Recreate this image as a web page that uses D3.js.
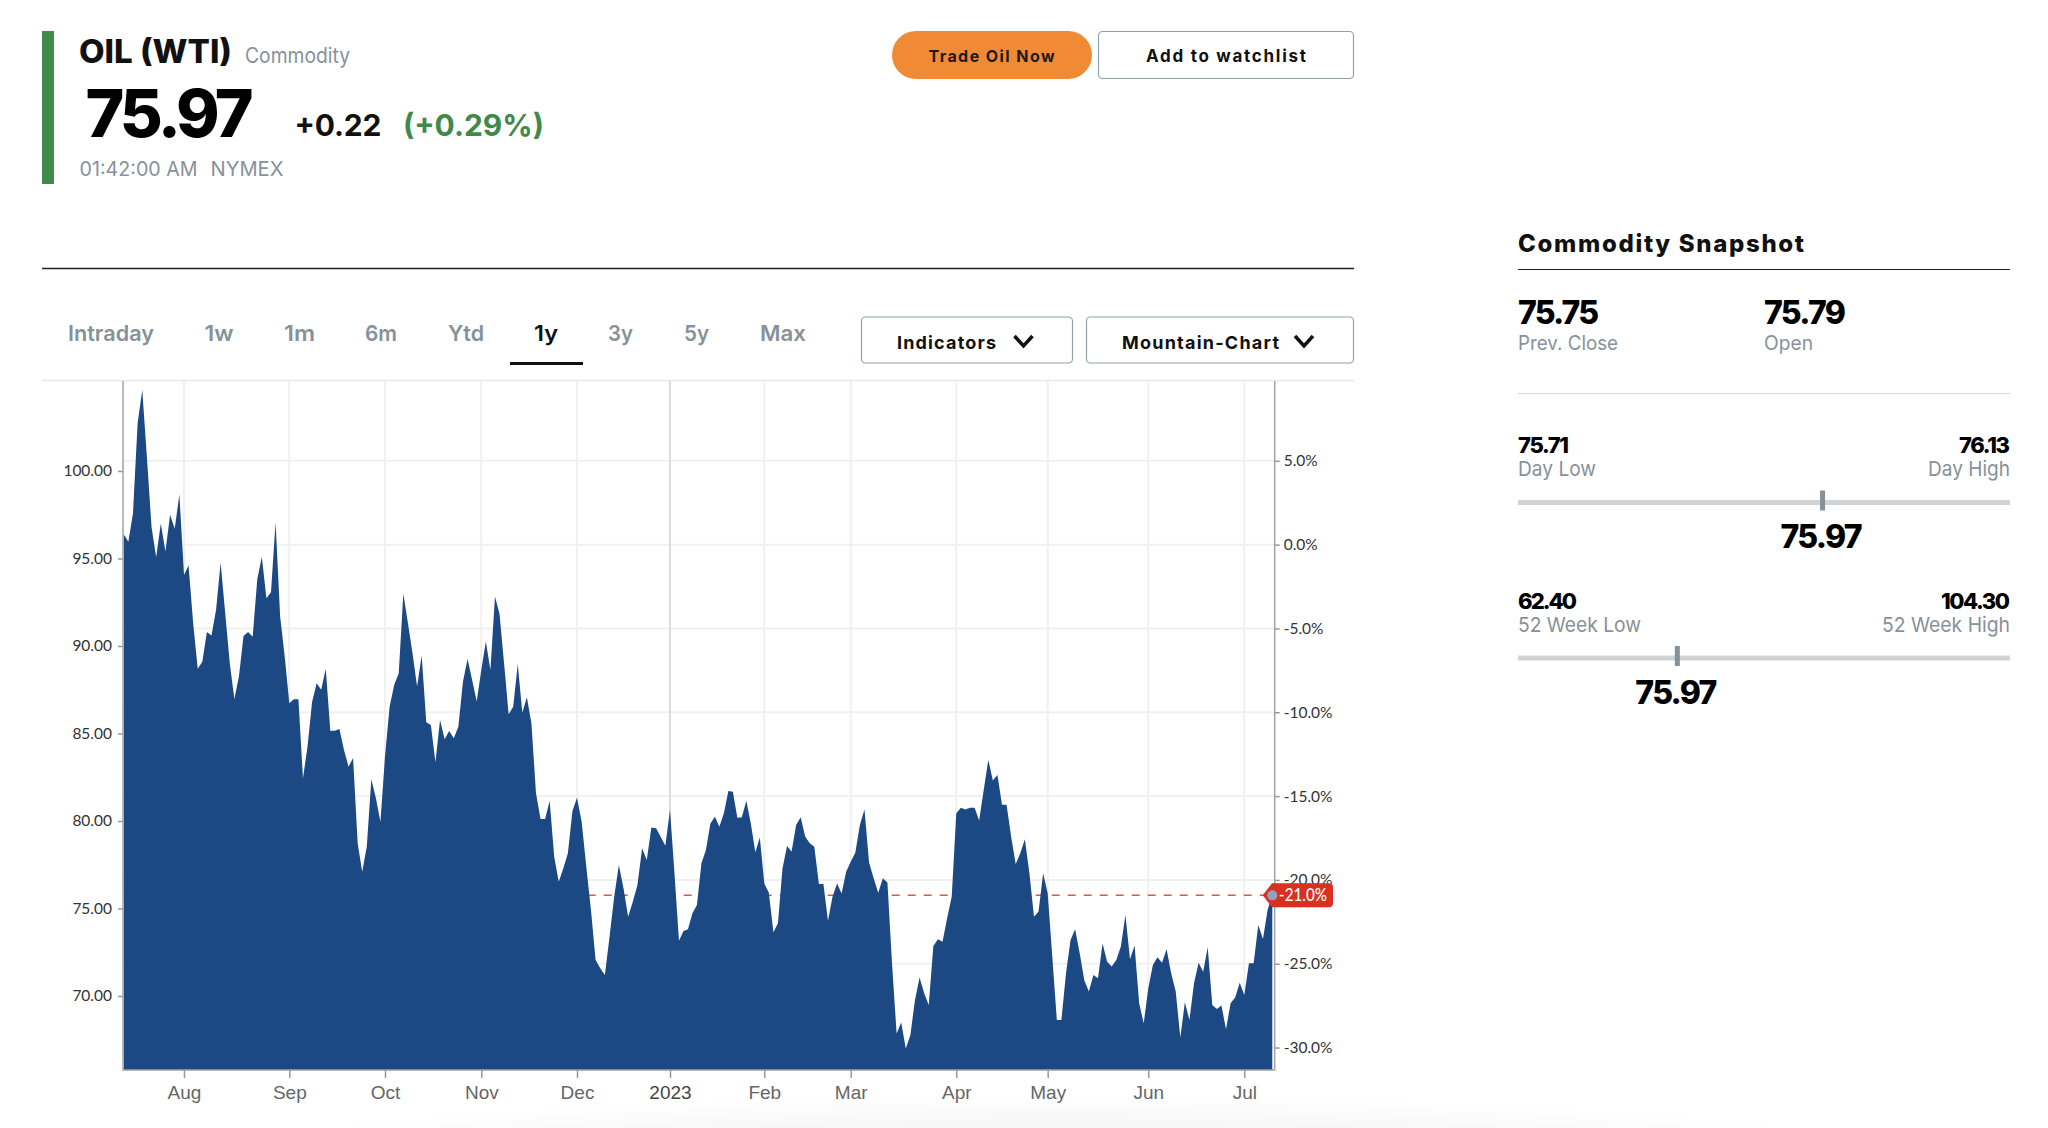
<!DOCTYPE html>
<html>
<head>
<meta charset="utf-8">
<script src="https://cdn.jsdelivr.net/npm/d3@7"></script>
<style>
  html, body { margin: 0; padding: 0; background: #fff; }
  svg { display: block; font-family: Inter, "Noto Sans", sans-serif; }
  .axis path.domain { display: none; }
  .axis line { stroke: #999; stroke-width: 1.5; }
</style>
</head>
<body>
<svg id="page" width="2048" height="1128"></svg>
<script>

// ===========================//
// DATA
// ===========================//

// daily closes, one year of trading days
var closes = [
  96.38,95.96,97.58,102.72,104.63,100.8,96.8,95.07,97.0,95.4,97.5,96.7,98.65,
  94.06,94.6,91.3,88.7,89.1,90.8,90.6,92.06,94.76,91.87,89.0,86.97,88.25,90.57,90.8,90.53,93.8,95.1,92.72,93.07,97.05,91.68,89.4,
  86.72,86.95,86.95,82.44,84.25,86.8,87.87,87.5,88.7,85.16,85.16,85.26,84.06,83.1,83.6,78.72,77.1,78.53,82.38,81.3,79.96,
  83.68,86.53,87.77,88.44,93.0,91.3,89.58,87.68,89.45,85.64,85.49,83.35,85.77,84.67,85.14,84.72,85.39,87.96,89.26,88.06,86.82,88.63,
  90.25,88.63,92.82,91.83,89.0,86.1,86.53,88.97,86.19,87.07,85.58,81.58,80.11,80.11,81.16,77.96,76.53,77.3,78.15,80.57,
  81.33,79.96,77.39,74.91,72.05,71.58,71.2,73.39,75.67,77.48,76.15,74.53,75.39,76.34,78.44,77.77,79.62,79.58,79.1,78.59,
  80.63,77.0,73.16,73.71,73.81,74.72,75.2,77.58,78.34,79.86,80.24,79.67,80.44,81.71,81.67,80.19,80.21,81.16,79.86,78.21,79.06,
  76.43,75.9,73.64,74.15,77.29,78.57,78.25,79.77,80.21,79.1,78.72,78.53,76.4,76.4,74.3,75.67,76.43,75.86,77.1,
  77.67,78.19,79.77,80.66,77.62,76.72,75.9,76.72,76.49,71.86,67.86,68.49,67.0,67.77,69.77,71.05,70.15,69.48,72.85,73.24,73.1,74.44,75.67,
  80.44,80.76,80.66,80.76,80.76,80.02,81.77,83.49,82.31,82.63,80.92,80.92,79.1,77.54,78.15,78.95,77.01,74.53,74.82,77.01,
  75.87,72.25,68.63,68.63,71.3,73.2,73.81,72.44,70.9,70.25,71.2,71.01,73.0,71.96,71.68,72.06,72.82,74.63,72.1,72.88,69.58,
  68.44,70.44,71.77,72.21,71.9,72.67,71.3,70.25,67.62,69.64,68.63,70.72,71.9,71.39,72.78,69.49,69.26,69.45,68.1,69.58,69.91,70.76,
  70.06,71.87,71.87,74.06,73.26,74.92,75.75
]

// first trading day of each month: index in closes + where the tick sits on the page
var months = [
  {label:"Aug", i:13, px:184},
  {label:"Sep", i:36, px:289.3},
  {label:"Oct", i:57, px:385},
  {label:"Nov", i:78, px:481.3},
  {label:"Dec", i:99, px:577},
  {label:"2023", i:119, px:670},
  {label:"Feb", i:140, px:764.3},
  {label:"Mar", i:159, px:850.7},
  {label:"Apr", i:182, px:956.3},
  {label:"May", i:202, px:1047.7},
  {label:"Jun", i:224, px:1148.3},
  {label:"Jul", i:245, px:1244.3}
]

var lastClose = closes[closes.length - 1]   // the chart stops at the previous close
var lastPrice = 75.97   // live quote, header and snapshot
var pctBase = 95.79     // price at 0.0% on the right axis

var grey = "#87919a"
var green = "#3f8a4b"
var blue = "#1c4884"

var svg = d3.select("#page")

// small helper, everything on the page outside the plot is plain text
function label(x, y, txt, size, weight, color, opts) {
  opts = opts || {}
  return svg.append("text")
    .attr("x", x).attr("y", y)
    .attr("font-size", size)
    .attr("font-weight", weight)
    .attr("fill", color)
    .attr("text-anchor", opts.anchor || "start")
    .attr("textLength", opts.len || null)
    .attr("lengthAdjust", opts.len ? (opts.adjust || "spacingAndGlyphs") : null)
    .text(txt)
}


// ===========================//
// BOTTOM SHADOW
// ===========================//

var defs = svg.append("defs")
var shadow = defs.append("radialGradient").attr("id", "shadow")
shadow.append("stop").attr("offset", "0%").attr("stop-color", "#e9e9e9")
shadow.append("stop").attr("offset", "100%").attr("stop-color", "#fff")
svg.append("ellipse")
  .attr("cx", 1060).attr("cy", 1170)
  .attr("rx", 900).attr("ry", 75)
  .attr("fill", "url(#shadow)")


// ===========================//
// HEADER
// ===========================//

svg.append("rect").attr("x", 42).attr("y", 31).attr("width", 12).attr("height", 153).attr("fill", green)

label(79, 63, "OIL (WTI)", 32, 800, "#111", {len:153})
label(245, 63, "Commodity", 21, 400, grey, {len:105})
label(85.5, 137, "75.97", 66, 800, "#000", {len:168, adjust:"spacing"})
label(294.5, 136, "+0.22", 30, 700, "#111", {len:87, adjust:"spacing"})
label(403, 136, "(+0.29%)", 30, 700, green, {len:141, adjust:"spacing"})
label(79.5, 175.5, "01:42:00 AM", 20, 400, grey, {len:118})
label(210.5, 175.5, "NYMEX", 20, 400, grey, {len:73})

svg.append("rect").attr("x", 892).attr("y", 31).attr("width", 200).attr("height", 48).attr("rx", 24).attr("fill", "#f18a35")
label(928.5, 61.5, "Trade Oil Now", 16, 700, "#1a1a1a", {len:126, adjust:"spacing"})

function outlineBox(x, y, w, h) {
  svg.append("rect")
    .attr("x", x + .5).attr("y", y + .5).attr("width", w - 1).attr("height", h - 1)
    .attr("rx", 4).attr("fill", "#fff").attr("stroke", "#8fa3ab").attr("stroke-width", 1.2)
}
outlineBox(1098, 31, 256, 48)
label(1146, 62, "Add to watchlist", 17, 700, "#111", {len:160, adjust:"spacing"})

svg.append("line").attr("x1", 42).attr("x2", 1354).attr("y1", 268.5).attr("y2", 268.5).attr("stroke", "#222").attr("stroke-width", 1.5)


// ===========================//
// RANGE TABS + DROPDOWNS
// ===========================//

var tabs = [
  {t:"Intraday", x:68, w:86},
  {t:"1w", x:204.5, w:29},
  {t:"1m", x:284, w:31},
  {t:"6m", x:365, w:32},
  {t:"Ytd", x:448, w:36},
  {t:"1y", x:534, w:24, on:true},
  {t:"3y", x:608, w:25},
  {t:"5y", x:684, w:25},
  {t:"Max", x:760, w:46}
]
tabs.forEach(function(d){
  label(d.x, 341, d.t, 22, 600, d.on ? "#111" : grey, {len:d.w})
})
svg.append("rect").attr("x", 510).attr("y", 362).attr("width", 73).attr("height", 3).attr("fill", "#111")

function chevron(x, y) {
  svg.append("path")
    .attr("d", "M" + x + "," + y + "l9,10l9,-10")
    .attr("fill", "none").attr("stroke", "#111").attr("stroke-width", 3.5)
}
outlineBox(861, 316.5, 212, 47)
label(897, 348.5, "Indicators", 18, 700, "#111", {len:99, adjust:"spacing"})
chevron(1014.5, 336)
outlineBox(1086, 316.5, 268, 47)
label(1122, 348.5, "Mountain-Chart", 18, 700, "#111", {len:157, adjust:"spacing"})
chevron(1295, 336)


// ===========================//
// SCALES
// ===========================//

var plot = {top:381, bottom:1070, left:123, right:1274.7}

// the axis runs on trading days and every month has its own width, so the scale goes through the months
var x = d3.scaleLinear()
  .domain([0].concat(months.map(function(d){ return d.i })).concat([closes.length - 1]))
  .range([123.7].concat(months.map(function(d){ return d.px })).concat([1272.3]))

var y = d3.scaleLinear()
  .domain([65.77, 105.14])
  .range([plot.bottom, plot.top])

var yPct = d3.scaleLinear()
  .domain(y.domain().map(function(v){ return (v / pctBase - 1) * 100 }))
  .range(y.range())

var priceTicks = [70, 75, 80, 85, 90, 95, 100]
var pctTicks = [5, 0, -5, -10, -15, -20, -25, -30]
var monthTicks = months.map(function(d){ return d.i })


// ===========================//
// GRID
// ===========================//

svg.append("line")
  .attr("x1", 42).attr("x2", 1354).attr("y1", 380.5).attr("y2", 380.5)
  .attr("stroke", "#e8e8e8").attr("stroke-width", 1.5)

svg.selectAll("myHGrid")
  .data(pctTicks)
  .enter()
  .append("line")
    .attr("x1", plot.left).attr("x2", plot.right)
    .attr("y1", function(d){ return yPct(d) }).attr("y2", function(d){ return yPct(d) })
    .attr("stroke", "#f0f0f0").attr("stroke-width", 2)

svg.selectAll("myVGrid")
  .data(months)
  .enter()
  .append("line")
    .attr("x1", function(d){ return x(d.i) }).attr("x2", function(d){ return x(d.i) })
    .attr("y1", plot.top).attr("y2", plot.bottom)
    .attr("stroke", function(d){ return d.label == "2023" ? "#dcdcdc" : "#f0f0f0" })
    .attr("stroke-width", 2)


// ===========================//
// LAST PRICE LINE + MOUNTAIN
// ===========================//

svg.append("line")
  .attr("x1", x(0)).attr("x2", x(closes.length - 1))
  .attr("y1", y(lastClose)).attr("y2", y(lastClose))
  .attr("stroke", "#e0574a").attr("stroke-width", 1.5).attr("stroke-dasharray", "8,8")

var mountain = d3.area()
  .x(function(d, i){ return x(i) })
  .y0(plot.bottom)
  .y1(function(d){ return y(d) })

svg.append("path")
  .datum(closes)
  .attr("d", mountain)
  .attr("fill", blue)


// ===========================//
// AXES
// ===========================//

svg.append("g")
  .attr("class", "axis")
  .attr("transform", "translate(" + plot.left + ",0)")
  .call(d3.axisLeft(y).tickValues(priceTicks).tickSize(5).tickPadding(6).tickFormat(d3.format(".2f")))
  .selectAll("text")
    .attr("font-size", 15.5).attr("font-family", "Lato").attr("fill", "#333")

svg.append("g")
  .attr("class", "axis")
  .attr("transform", "translate(" + plot.right + ",0)")
  .call(d3.axisRight(yPct).tickValues(pctTicks).tickSize(5).tickPadding(4).tickFormat(function(d){ return d.toFixed(1) + "%" }))
  .selectAll("text")
    .attr("font-size", 15.5).attr("font-family", "Lato").attr("fill", "#333")

var xAxis = svg.append("g")
  .attr("class", "axis")
  .attr("transform", "translate(0," + plot.bottom + ")")
  .call(d3.axisBottom(x).tickValues(monthTicks).tickSize(8).tickPadding(8).tickFormat(function(d){
    return months.filter(function(m){ return m.i == d })[0].label
  }))
xAxis.selectAll("text")
  .attr("font-size", 19)
  .attr("fill", function(d){ return d == 119 ? "#444" : "#666" })
  .attr("font-weight", function(d){ return d == 119 ? 500 : 400 })

// the plot frame, the two sides and the floor
svg.append("path")
  .attr("d", "M" + plot.left + "," + plot.top + "V" + plot.bottom + "H" + plot.right + "V" + plot.top)
  .attr("fill", "none").attr("stroke", "#a3a3a3").attr("stroke-width", 1.5)


// ===========================//
// LAST PRICE TAG
// ===========================//

var tagY = y(lastClose)
svg.append("path")
  .attr("d", "M1262.7," + tagY + "L1272," + (tagY - 12) + "H1329a4,4 0 0 1 4,4V" + (tagY + 8) + "a4,4 0 0 1 -4,4H1272Z")
  .attr("fill", "#d9301f")
svg.append("circle")
  .attr("cx", x(closes.length - 1)).attr("cy", tagY).attr("r", 5)
  .attr("fill", "#8ea3bf")
label(1279, tagY + 6, "-21.0%", 16.5, 500, "#fff", {len:48}).attr("font-family", "Lato")


// ===========================//
// COMMODITY SNAPSHOT
// ===========================//

var side = {left:1518, right:2010}

label(side.left, 251.7, "Commodity Snapshot", 24, 800, "#111", {len:286, adjust:"spacing"})
svg.append("line").attr("x1", side.left).attr("x2", side.right).attr("y1", 269.5).attr("y2", 269.5).attr("stroke", "#222").attr("stroke-width", 1.2)

label(side.left, 324, "75.75", 32, 800, "#000", {len:81, adjust:"spacing"})
label(side.left, 350, "Prev. Close", 20, 400, grey, {len:100})
label(1764, 324, "75.79", 32, 800, "#000", {len:82, adjust:"spacing"})
label(1764, 350, "Open", 20, 400, grey, {len:49})
svg.append("line").attr("x1", side.left).attr("x2", side.right).attr("y1", 393.5).attr("y2", 393.5).attr("stroke", "#d5d8da").attr("stroke-width", 1.2)

var ranges = [
  {low:75.71, high:76.13, lowName:"Day Low", highName:"Day High", top:453, lowW:51, highW:51, nameLow:78, nameHigh:82},
  {low:62.40, high:104.30, lowName:"52 Week Low", highName:"52 Week High", top:608.5, lowW:59, highW:69, nameLow:123, nameHigh:128}
]
ranges.forEach(function(d){
  var pos = d3.scaleLinear().domain([d.low, d.high]).range([side.left, side.right])
  label(side.left, d.top, d.low.toFixed(2), 22, 800, "#000", {len:d.lowW, adjust:"spacing"})
  label(side.right, d.top, d.high.toFixed(2), 22, 800, "#000", {anchor:"end", len:d.highW, adjust:"spacing"})
  label(side.left, d.top + 23, d.lowName, 20.5, 400, grey, {len:d.nameLow})
  label(side.right, d.top + 23, d.highName, 20.5, 400, grey, {anchor:"end", len:d.nameHigh})
  svg.append("rect").attr("x", side.left).attr("y", d.top + 47).attr("width", side.right - side.left).attr("height", 5).attr("fill", "#d0d4d6")
  svg.append("rect").attr("x", pos(lastPrice) - 2.5).attr("y", d.top + 37.5).attr("width", 5).attr("height", 20).attr("fill", grey)
  label(pos(lastPrice) - 1, d.top + 95, lastPrice.toFixed(2), 32, 800, "#000", {anchor:"middle", len:82, adjust:"spacing"})
})

</script>
</body>
</html>
